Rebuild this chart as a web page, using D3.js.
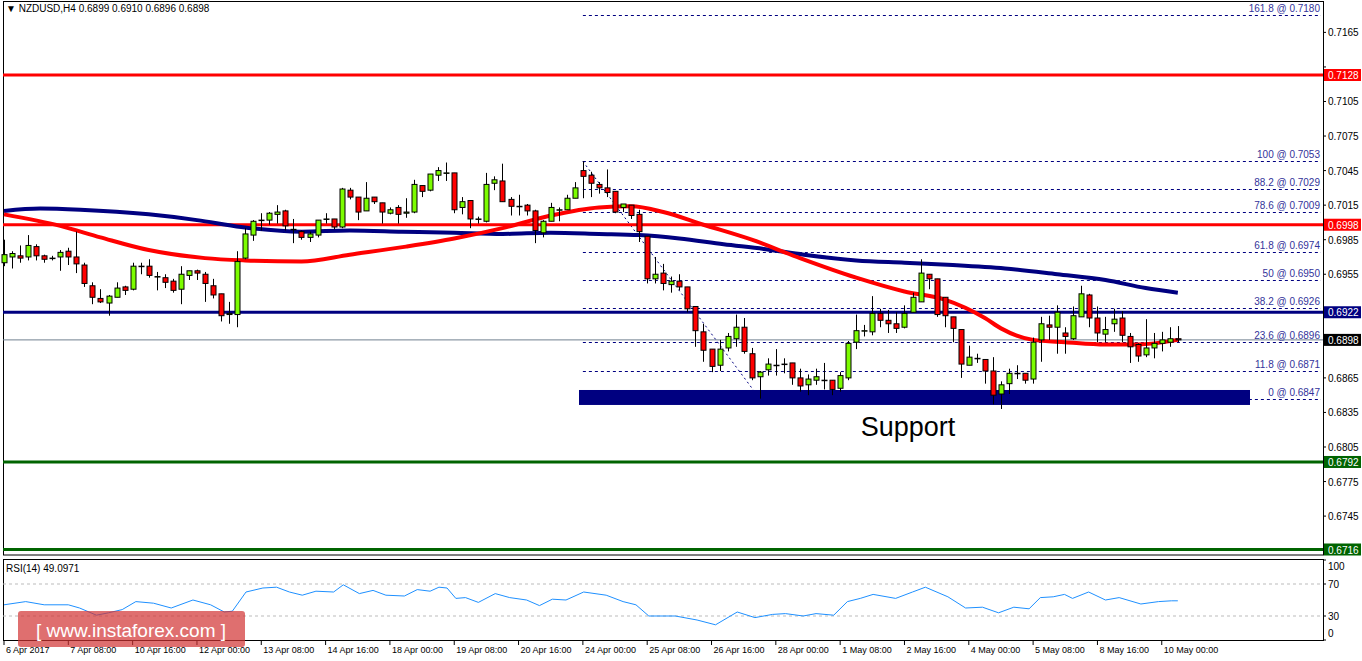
<!DOCTYPE html>
<html>
<head>
<meta charset="utf-8">
<script src="https://cdn.jsdelivr.net/npm/d3@7/dist/d3.min.js"></script>
<style>
  body { margin: 0; background: #fff; }
  svg { display: block; font-family: "Liberation Sans", Arial, sans-serif; }
</style>
</head>
<body>
<svg id="chart" width="1362" height="661"></svg>
<script>
// H4 candles, [open, high, low, close]
const candles = [
  [.6965,.6985,.6962,.6972],[.6970,.6975,.6960,.6973],[.6971,.6980,.6965,.6969],[.6970,.6989,.6967,.6980],
  [.6979,.6981,.6967,.6971],[.6971,.6972,.6965,.6968],[.6969,.6971,.6967,.6969],[.6970,.6976,.6958,.6974],
  [.6975,.6978,.6963,.6970],[.6970,.6992,.6956,.6964],[.6963,.6965,.6944,.6947],[.6945,.6948,.6929,.6935],
  [.6934,.6942,.6930,.6931],[.6930,.6937,.6919,.6936],[.6935,.6948,.6935,.6943],[.6944,.6945,.6937,.6941],
  [.6942,.6965,.6941,.6962],[.6962,.6965,.6955,.6962],[.6962,.6968,.6952,.6954],[.6953,.6957,.6941,.6953],
  [.6952,.6955,.6943,.6948],[.6949,.6951,.6939,.6941],[.6942,.6962,.6929,.6955],[.6954,.6958,.6950,.6958],
  [.6958,.6959,.6950,.6956],[.6955,.6957,.6931,.6947],[.6945,.6951,.6934,.6937],[.6938,.6938,.6914,.6919],
  [.6920,.6931,.6912,.6921],[.6920,.6975,.6909,.6966],[.6969,.6995,.6968,.6990],[.6989,.7002,.6984,.7001],
  [.7002,.7008,.6993,.7002],[.7002,.7009,.6998,.7008],[.7007,.7015,.6999,.7009],[.7010,.7011,.6993,.6997],
  [.6994,.7003,.6982,.6994],[.6992,.6993,.6985,.6987],[.6987,.6992,.6983,.6990],[.6989,.7002,.6987,.7002],
  [.7003,.7008,.6999,.7003],[.7003,.7003,.6994,.6996],[.6996,.7030,.6995,.7029],[.7028,.7030,.7020,.7022],
  [.7022,.7022,.7002,.7009],[.7010,.7035,.7010,.7021],[.7022,.7022,.7016,.7018],[.7017,.7017,.6999,.7009],
  [.7008,.7013,.7007,.7011],[.7013,.7015,.6999,.7007],[.7008,.7021,.7004,.7009],[.7009,.7037,.7008,.7033],
  [.7032,.7032,.7022,.7027],[.7028,.7042,.7027,.7042],[.7041,.7048,.7036,.7045],[.7043,.7052,.7036,.7043],
  [.7043,.7043,.7008,.7011],[.7013,.7022,.7007,.7018],[.7019,.7019,.6995,.7003],[.7003,.7005,.6999,.7003],
  [.7001,.7043,.7000,.7033],[.7034,.7040,.7028,.7037],[.7036,.7051,.7018,.7018],[.7020,.7022,.7006,.7014],
  [.7014,.7024,.7006,.7014],[.7015,.7016,.7006,.7010],[.7010,.7011,.6982,.6993],[.6991,.7002,.6987,.7001],
  [.7001,.7017,.7001,.7013],[.7011,.7013,.7001,.7011],[.7011,.7024,.7011,.7021],[.7021,.7035,.7021,.7030],
  [.7045,.7053,.7021,.7040],[.7041,.7044,.7022,.7034],[.7033,.7035,.7025,.7030],[.7030,.7046,.7022,.7026],
  [.7027,.7027,.7008,.7009],[.7013,.7016,.7009,.7016],[.7015,.7015,.7003,.7006],[.7007,.7011,.6983,.6992],
  [.6988,.6988,.6947,.6951],[.6951,.6970,.6947,.6955],[.6956,.6964,.6941,.6947],[.6946,.6953,.6939,.6949],
  [.6949,.6955,.6941,.6944],[.6944,.6944,.6922,.6925],[.6927,.6927,.6892,.6906],[.6905,.6912,.6879,.6889],
  [.6890,.6890,.6870,.6875],[.6876,.6898,.6871,.6890],[.6891,.6904,.6888,.6901],[.6899,.6920,.6892,.6909],
  [.6909,.6917,.6886,.6888],[.6886,.6891,.6863,.6865],[.6866,.6871,.6847,.6870],[.6872,.6882,.6867,.6877],
  [.6876,.6890,.6867,.6876],[.6877,.6882,.6869,.6877],[.6878,.6878,.6859,.6865],[.6865,.6873,.6853,.6858],
  [.6859,.6868,.6850,.6864],[.6863,.6873,.6859,.6866],[.6863,.6878,.6855,.6863],[.6863,.6863,.6850,.6855],
  [.6856,.6870,.6853,.6867],[.6865,.6897,.6863,.6895],[.6896,.6920,.6890,.6906],[.6906,.6911,.6901,.6906],
  [.6905,.6936,.6902,.6921],[.6921,.6925,.6909,.6915],[.6915,.6924,.6904,.6912],[.6912,.6922,.6904,.6908],
  [.6909,.6928,.6908,.6921],[.6922,.6939,.6922,.6935],[.6931,.6968,.6931,.6956],[.6955,.6955,.6942,.6951],
  [.6951,.6951,.6918,.6920],[.6935,.6935,.6909,.6919],[.6918,.6918,.6896,.6908],[.6907,.6907,.6865,.6877],
  [.6876,.6893,.6876,.6883],[.6882,.6886,.6878,.6882],[.6881,.6881,.6860,.6871],[.6871,.6883,.6842,.6850],
  [.6851,.6862,.6838,.6859],[.6860,.6873,.6851,.6869],[.6869,.6876,.6864,.6869],[.6869,.6869,.6860,.6863],
  [.6864,.6900,.6860,.6896],[.6898,.6918,.6879,.6912],[.6911,.6919,.6898,.6909],[.6909,.6928,.6886,.6922],
  [.6904,.6909,.6886,.6901],[.6899,.6927,.6898,.6919],[.6918,.6945,.6918,.6938],[.6937,.6938,.6909,.6917],
  [.6917,.6927,.6896,.6904],[.6903,.6918,.6896,.6907],[.6912,.6925,.6905,.6916],[.6917,.6923,.6896,.6902],
  [.6901,.6904,.6878,.6892],[.6894,.6895,.6879,.6884],[.6885,.6916,.6883,.6891],[.6891,.6904,.6882,.6895],
  [.6895,.6905,.6888,.6898],[.6896,.6909,.6892,.6899],[.6899,.6910,.6896,.6898]
];

// moving averages: [candle index, price]
const redMA = [[0,.7007],[7,.6997],[12,.6987],[18,.6976],[25,.6969],[30,.6967],[37,.6966],[43,.6972],
  [50,.6979],[56,.6986],[62,.6995],[68,.7006],[74,.7013],[78,.7014],[82,.7009],[87,.6998],[93,.6985],
  [99,.6969],[106,.6952],[112,.6940],[117,.6933],[122,.6917],[124,.6908],[128,.6898],[132,.6896],
  [137,.6894],[141,.6894],[146,.6898]];
const blueMA = [[0,.7010],[4.5,.7012],[9.5,.7011],[18,.7007],[24,.7002],[29.5,.6996],[37,.6992],[43,.6993],
  [49.5,.6992],[56,.6991],[62,.6990],[68,.6991],[74,.6990],[79,.6989],[84,.6986],[89.5,.6981],[94.5,.6977],
  [99.5,.6972],[106,.6967],[112,.6965],[118,.6963],[124.5,.6960],[131,.6955],[137,.6950],[142,.6943],[146,.6939]];

const rsi = [[0,44],[2.7,48],[5,44],[8,44],[9.4,40],[11.5,31],[13,34],[14.7,38],[16.4,48],[18.6,46],[20.8,40],
  [23.5,50],[25.7,44],[27.4,35],[28.4,36],[30.1,60],[32.2,65],[33.9,66],[35.5,60],[37.1,56],[38.8,61],[41,60],
  [42.2,69],[44.2,58],[45.9,62],[47.5,56],[49.8,55],[51.4,63],[53,61],[54.1,66],[55.1,65],[56.2,52],[57.4,53],
  [59,47],[61.1,58],[62.9,53],[65,50],[66.6,43],[68.2,51],[69.9,50],[72.1,60],[74.9,56],[77,48],[78.6,44],
  [80.2,30],[83.5,30],[86.2,25],[88.5,19],[91.2,35],[93.4,28],[95.6,32],[97.2,33],[99.4,30],[101,33],
  [103.2,31],[104.9,48],[106.5,52],[108.1,57],[110.9,52],[113,60],[114.6,66],[117.4,54],[119.6,40],[121.7,41],
  [123.7,34],[125.6,41],[127.5,39],[128.9,53],[130.5,54],[131.9,57],[132.9,52],[134.9,60],[137,50],[138.7,53],
  [141.4,45],[143.6,48],[145.2,49],[146,49]];

const fibLevels = [["161.8", .7180], ["100", .7053], ["88.2", .7029], ["78.6", .7009], ["61.8", .6974],
  ["50", .6950], ["38.2", .6926], ["23.6", .6896], ["11.8", .6871], ["0", .6847]];
const levelLines = [[.7128, "#ff0000"], [.6998, "#ff0000"], [.6922, "#000080"], [.6792, "#006400"], [.6716, "#006400"]];
const priceTicks = [.7165, .7135, .7105, .7075, .7045, .7015, .6985, .6955, .6925, .6895, .6865, .6835, .6805, .6775, .6745];
const timeLabels = ["6 Apr 2017", "7 Apr 08:00", "10 Apr 16:00", "12 Apr 00:00", "13 Apr 08:00", "14 Apr 16:00",
  "18 Apr 00:00", "19 Apr 08:00", "20 Apr 16:00", "24 Apr 00:00", "25 Apr 08:00", "26 Apr 16:00", "28 Apr 00:00",
  "1 May 08:00", "2 May 16:00", "4 May 00:00", "5 May 08:00", "8 May 16:00", "10 May 00:00"];
const rsiTicks = [100, 70, 30, 0];

const svg = d3.select("#chart");
const L = 3, R = 1323;
const x = d3.scaleLinear().domain([0, 146]).range([4, 4 + 146 * 8.04]);
const y = d3.scaleLinear().domain([0.6716, 0.7128]).range([549.5, 75]);
const yr = d3.scaleLinear().domain([0, 100]).range([640, 560]);
const fmt = d3.format(".4f");

// frames
svg.append("rect").attr("x", L + .5).attr("y", 1.5).attr("width", R - L).attr("height", 553.5)
  .attr("fill", "none").attr("stroke", "#000");
svg.append("rect").attr("x", L + .5).attr("y", 559.5).attr("width", R - L).attr("height", 81)
  .attr("fill", "none").attr("stroke", "#000");

const main = svg.append("g");

// grey current-price line
main.append("line").attr("x1", L).attr("x2", R).attr("y1", y(.6898)).attr("y2", y(.6898))
  .attr("stroke", "#708090").attr("stroke-width", 1);

// fibonacci levels
const fibX = x(72);
fibLevels.forEach(([pct, v]) => {
  main.append("line").attr("x1", fibX).attr("x2", R - 2).attr("y1", Math.round(y(v)) + .5).attr("y2", Math.round(y(v)) + .5)
    .attr("stroke", "#000080").attr("stroke-dasharray", "3,3");
  main.append("text").attr("x", R - 3).attr("y", y(v) - 3).attr("text-anchor", "end")
    .attr("font-size", 10).attr("fill", "#33339a").text(`${pct} @ ${fmt(v)}`);
});
// fib trend line
main.append("line").attr("x1", x(72)).attr("y1", y(.7053)).attr("x2", x(94)).attr("y2", y(.6847))
  .attr("stroke", "#000080").attr("stroke-dasharray", "2,3");

// support zone
main.append("rect").attr("x", 579).attr("width", 671).attr("y", y(.68545)).attr("height", y(.68415) - y(.68545))
  .attr("fill", "#000080");
main.append("text").attr("x", 908).attr("y", 436).attr("text-anchor", "middle")
  .attr("font-size", 27).text("Support");

// horizontal levels
levelLines.forEach(([v, c]) => {
  main.append("line").attr("x1", L).attr("x2", R).attr("y1", y(v)).attr("y2", y(v))
    .attr("stroke", c).attr("stroke-width", 3);
});

// moving averages
const line = d3.line().x(d => x(d[0])).y(d => y(d[1])).curve(d3.curveMonotoneX);
main.append("path").datum(blueMA).attr("d", line).attr("fill", "none").attr("stroke", "#000080").attr("stroke-width", 4);
main.append("path").datum(redMA).attr("d", line).attr("fill", "none").attr("stroke", "#ff0000").attr("stroke-width", 4);

// candles
const cg = main.selectAll("g.c").data(candles).enter().append("g");
cg.append("line")
  .attr("x1", (d, i) => Math.round(x(i)) + .5).attr("x2", (d, i) => Math.round(x(i)) + .5)
  .attr("y1", d => y(d[1])).attr("y2", d => y(d[2])).attr("stroke", "#000");
cg.append("rect")
  .attr("x", (d, i) => Math.round(x(i)) - 2)
  .attr("y", d => y(Math.max(d[0], d[3])))
  .attr("width", 5)
  .attr("height", d => Math.max(0.5, Math.abs(y(d[0]) - y(d[3]))))
  .attr("fill", d => d[3] >= d[0] ? "#7cfc00" : "#ff0000")
  .attr("stroke", "#000").attr("stroke-width", 1);

// right price axis
const tags = [[.7128, "#ff0000"], [.6998, "#ff0000"], [.6922, "#000080"],
  [.6898, "#000"], [.6792, "#006400"], [.6716, "#006400"]];
const ax = svg.append("g").attr("font-size", 10).attr("fill", "#000");
priceTicks.forEach(v => {
  ax.append("line").attr("x1", R).attr("x2", R + 3).attr("y1", y(v)).attr("y2", y(v)).attr("stroke", "#000");
  if (tags.some(t => Math.abs(y(t[0]) - y(v)) < 12)) return;
  ax.append("text").attr("x", R + 5).attr("y", y(v) + 4).text(fmt(v));
});
tags.forEach(([v, bg]) => {
  ax.append("rect").attr("x", R + 1).attr("y", y(v) - 6).attr("width", 37).attr("height", 12).attr("fill", bg);
  ax.append("text").attr("x", R + 5).attr("y", y(v) + 4).attr("fill", "#fff").text(fmt(v));
});

// title
svg.append("text").attr("x", 6).attr("y", 12).attr("font-size", 10)
  .text("\u25BC NZDUSD,H4  0.6899 0.6910 0.6896 0.6898");

// RSI panel
const rg = svg.append("g");
[70, 30].forEach(v => rg.append("line").attr("x1", L).attr("x2", R).attr("y1", yr(v)).attr("y2", yr(v))
  .attr("stroke", "#bbb").attr("stroke-dasharray", "3,3"));
rg.append("path").datum(rsi)
  .attr("d", d3.line().x(d => x(d[0])).y(d => yr(d[1])))
  .attr("fill", "none").attr("stroke", "#1e90ff").attr("stroke-width", 1);
rg.append("text").attr("x", 6).attr("y", 572).attr("font-size", 10).text("RSI(14) 49.0971");
rsiTicks.forEach(v => {
  rg.append("line").attr("x1", R).attr("x2", R + 3).attr("y1", yr(v)).attr("y2", yr(v)).attr("stroke", "#000");
  rg.append("text").attr("x", R + 5).attr("y", Math.min(Math.max(yr(v) + 4, 570), 637)).attr("font-size", 10).text(v);
});

// time axis
timeLabels.forEach((t, k) => {
  const tx = x(k * 8);
  rg.append("line").attr("x1", tx).attr("x2", tx).attr("y1", 640).attr("y2", 645).attr("stroke", "#000");
  rg.append("text").attr("x", tx + 2).attr("y", 653).attr("font-size", 9).text(t);
});

// watermark
const wm = svg.append("g");
wm.append("rect").attr("x", 18).attr("y", 611).attr("width", 227).attr("height", 36).attr("rx", 3)
  .attr("fill", "#d23232").attr("fill-opacity", 0.7);
wm.append("text").attr("x", 131).attr("y", 637).attr("text-anchor", "middle").attr("fill", "#fff")
  .attr("font-size", 19).text("[  www.instaforex.com ]");
</script>
</body>
</html>
